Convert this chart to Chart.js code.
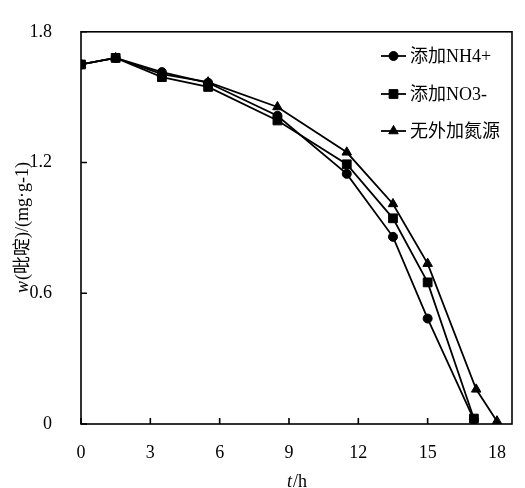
<!DOCTYPE html>
<html><head><meta charset="utf-8">
<script src="https://cdn.jsdelivr.net/npm/chart.js@4.4.1/dist/chart.umd.min.js"></script>
<style>html,body{margin:0;padding:0;background:#fff}#wrap{width:525px;height:488px}</style>
</head><body><div id="wrap"><canvas id="c" width="525" height="488"></canvas></div>
<script>
const seriesNames = ['添加NH4+', '添加NO3-', '无外加氮源'];
const timeNH4 = [0, 1.5, 3.5, 5.5, 8.5, 11.5, 13.5, 15, 17];
const valNH4  = [1.65, 1.68, 1.615, 1.566, 1.415, 1.148, 0.859, 0.484, 0.02];
const timeNO3 = [0, 1.5, 3.5, 5.5, 8.5, 11.5, 13.5, 15, 17];
const valNO3  = [1.65, 1.68, 1.592, 1.547, 1.393, 1.192, 0.944, 0.650, 0.025];
const timeNone = [0, 1.5, 3.5, 5.5, 8.5, 11.5, 13.5, 15, 17.1, 18];
const valNone  = [1.65, 1.68, 1.606, 1.569, 1.455, 1.247, 1.010, 0.736, 0.159, 0.013];
const xTicks = [0, 3, 6, 9, 12, 15, 18];
const yTicks = [0, 0.6, 1.2, 1.8];
const yTickLabels = ['0', '0.6', '1.2', '1.8'];
const xTitle = ['t', '/h'];
const yTitle = ['w', '(吡啶)/(mg·g-1)'];

const pointStyles = ['circle', 'rect', 'triangle'];
const pointRadii = [4.5, 6.2, 5.5];
const FONT = "'Liberation Serif', 'Noto Sans CJK SC', serif";

function toPts(xs, ys) { return xs.map((x, i) => ({x: x, y: ys[i]})); }
const allData = [toPts(timeNH4, valNH4), toPts(timeNO3, valNO3), toPts(timeNone, valNone)];

const datasets = allData.map((d, i) => ({
  label: seriesNames[i],
  data: d,
  showLine: true,
  borderColor: '#000',
  backgroundColor: '#000',
  borderWidth: 1.8,
  pointStyle: pointStyles[i],
  pointRadius: pointRadii[i],
  pointBorderWidth: 1,
  pointBackgroundColor: '#000',
  pointBorderColor: '#000',
  tension: 0
}));

const framePlugin = {
  id: 'frame',
  beforeDatasetsDraw(chart) {
    const {ctx, chartArea: a, scales: {x, y}} = chart;
    ctx.save();
    ctx.strokeStyle = '#000';
    ctx.lineWidth = 1.6;
    ctx.strokeRect(a.left, a.top, a.right - a.left, a.bottom - a.top);
    ctx.beginPath();
    x.ticks.forEach(t => { const px = x.getPixelForValue(t.value); ctx.moveTo(px, a.bottom); ctx.lineTo(px, a.bottom - 6); });
    y.ticks.forEach(t => { const py = y.getPixelForValue(t.value); ctx.moveTo(a.left, py); ctx.lineTo(a.left + 6, py); });
    ctx.stroke();
    ctx.restore();
  },
  afterDraw(chart) {
    const {ctx, chartArea: a} = chart;
    ctx.save();
    // legend
    const rows = [56, 94, 131];
    ctx.fillStyle = '#000'; ctx.strokeStyle = '#000';
    seriesNames.forEach((name, i) => {
      const yy = rows[i];
      ctx.lineWidth = 1.8;
      ctx.beginPath(); ctx.moveTo(381, yy); ctx.lineTo(406, yy); ctx.stroke();
      ctx.lineWidth = 1;
      Chart.helpers.drawPoint(ctx, {pointStyle: pointStyles[i], radius: pointRadii[i], rotation: 0, borderWidth: 1}, 393.5, yy);
      ctx.font = '18px ' + FONT;
      ctx.textBaseline = 'middle';
      ctx.textAlign = 'left';
      ctx.fillText(name, 410, yy + 1);
    });
    // x title
    ctx.textBaseline = 'alphabetic';
    ctx.textAlign = 'left';
    const fI = 'italic 18px ' + FONT, fN = '18px ' + FONT;
    ctx.font = fI; const w1 = ctx.measureText(xTitle[0]).width;
    ctx.font = fN; const w2 = ctx.measureText(xTitle[1]).width;
    const cx = (a.left + a.right) / 2;
    let sx = cx - (w1 + w2) / 2;
    ctx.font = fI; ctx.fillText(xTitle[0], sx, 487);
    ctx.font = fN; ctx.fillText(xTitle[1], sx + w1 + 1, 487);
    // y title
    ctx.save();
    ctx.translate(28, (a.top + a.bottom) / 2);
    ctx.rotate(-Math.PI / 2);
    ctx.font = fI; const v1 = ctx.measureText(yTitle[0]).width;
    ctx.font = fN; const v2 = ctx.measureText(yTitle[1]).width;
    let sy = -(v1 + v2) / 2;
    ctx.font = fI; ctx.fillText(yTitle[0], sy, 0);
    ctx.font = fN; ctx.fillText(yTitle[1], sy + v1 + 1, 0);
    ctx.restore();
    ctx.restore();
  }
};

new Chart(document.getElementById('c'), {
  type: 'scatter',
  data: {datasets: datasets},
  options: {
    responsive: false,
    animation: false,
    devicePixelRatio: 1,
    layout: {padding: {top: 19, right: 13, left: 0, bottom: 0}},
    plugins: {legend: {display: false}, tooltip: {enabled: false}},
    scales: {
      x: {
        type: 'linear', min: 0, max: 18.65,
        afterBuildTicks: s => { s.ticks = xTicks.map(v => ({value: v})); },
        afterFit: s => { s.height = 64; },
        grid: {display: false},
        border: {display: false},
        ticks: {color: '#000', font: {family: FONT, size: 18}, padding: 10, maxRotation: 0, autoSkip: false,
                callback: v => String(v)}
      },
      y: {
        type: 'linear', min: 0, max: 1.8,
        afterBuildTicks: s => { s.ticks = yTicks.map(v => ({value: v})); },
        afterFit: s => { s.width = 81; },
        grid: {display: false},
        border: {display: false},
        ticks: {color: '#000', font: {family: FONT, size: 18}, padding: 21, autoSkip: false,
                callback: (v) => { const i = yTicks.indexOf(v); return i >= 0 ? yTickLabels[i] : ''; }}
      }
    }
  },
  plugins: [framePlugin]
});
</script></body></html>
